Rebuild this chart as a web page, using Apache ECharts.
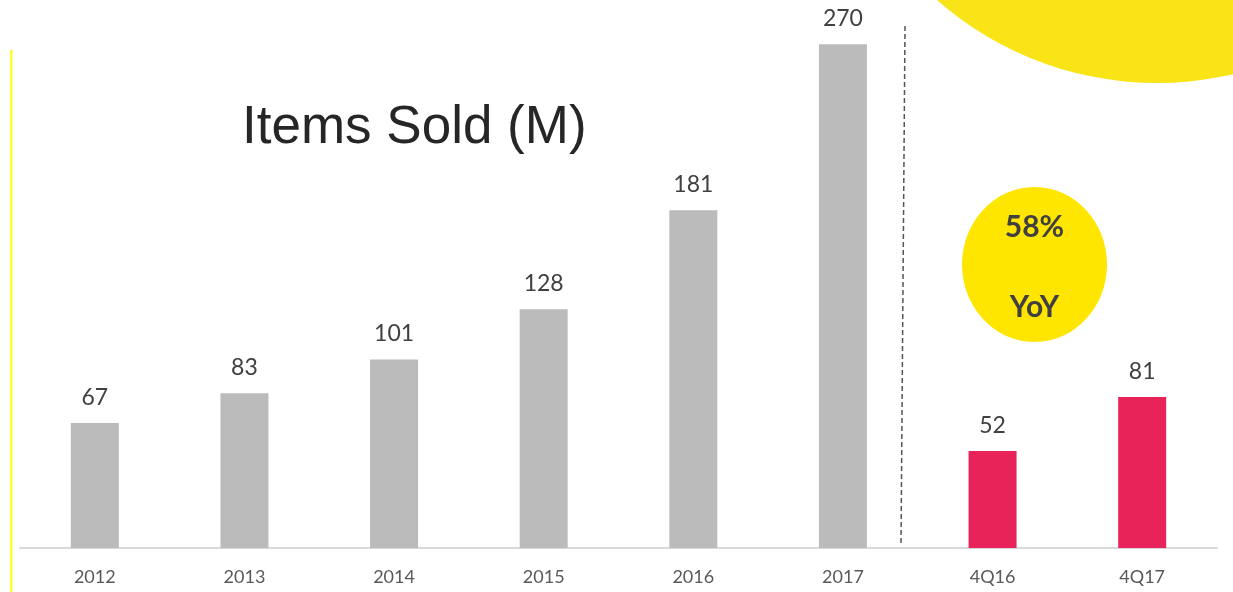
<!DOCTYPE html>
<html>
<head>
<meta charset="utf-8">
<script src="https://cdn.jsdelivr.net/npm/echarts@6/dist/echarts.min.js"></script>
<style>
  html, body { margin: 0; padding: 0; background: #fff; }
  #main { width: 1233px; height: 592px; }
</style>
</head>
<body>
<div id="main"></div>
<script>
const chart = echarts.init(document.querySelector('#main'))

// annual totals
const YEARS = ['2012', '2013', '2014', '2015', '2016', '2017']
const YEAR_VALUES = [67, 83, 101, 128, 181, 270]

// quarter comparison
const QUARTERS = ['4Q16', '4Q17']
const QUARTER_VALUES = [52, 81]

const TITLE = 'Items Sold (M)'
const YOY_TEXT = ['58%', 'YoY']

const GRAY = '#BBBBBB'
const PINK = '#E8235A'
const LABEL_FONT = 'Lato, "Open Sans", sans-serif'

const categories = YEARS.concat(QUARTERS)
const values = YEAR_VALUES.concat(QUARTER_VALUES)

let option = {
  animation: false,
  backgroundColor: '#fff',
  title: {
    text: TITLE,
    left: 237,
    top: 97,
    textStyle: {
      fontFamily: '"Liberation Sans", Arial, sans-serif',
      fontSize: 53,
      fontWeight: 'normal',
      color: '#262626'
    }
  },
  grid: {
    left: 20,
    right: 16,
    top: 25.6,
    bottom: 44
  },
  xAxis: {
    type: 'category',
    data: categories,
    axisLine: { lineStyle: { color: '#D9D9D9', width: 2 } },
    axisTick: { show: false },
    axisLabel: {
      color: '#595959',
      fontSize: 18,
      fontFamily: LABEL_FONT,
      margin: 20
    }
  },
  yAxis: {
    type: 'value',
    min: 0,
    max: 280,
    show: false,
    splitLine: { show: false }
  },
  series: [
    {
      type: 'bar',
      barWidth: 48,
      data: values.map((v, i) => ({
        value: v,
        itemStyle: { color: i < YEARS.length ? GRAY : PINK }
      })),
      label: {
        show: true,
        position: 'top',
        distance: 14,
        color: '#404040',
        fontSize: 23,
        fontFamily: LABEL_FONT
      }
    }
  ],
  graphic: [
    // big yellow disc in the top right corner
    {
      type: 'circle',
      shape: { cx: 1157, cy: -250, r: 333 },
      style: { fill: '#F9E517' },
      z: -1
    },
    // thin yellow rule on the left
    {
      type: 'rect',
      shape: { x: 10, y: 50, width: 2.5, height: 542 },
      style: { fill: '#FFFF30' }
    },
    // dashed separator between years and quarters
    {
      type: 'line',
      shape: { x1: 905, y1: 26, x2: 901, y2: 545 },
      style: { stroke: '#555', lineWidth: 1.5, lineDash: [5, 3] }
    },
    {
      type: 'ellipse',
      shape: { cx: 1034.5, cy: 264.5, rx: 72.5, ry: 77.5 },
      style: { fill: '#FFE600' }
    },
    {
      type: 'text',
      x: 1034.5,
      y: 227,
      style: {
        text: YOY_TEXT[0],
        fill: '#404040',
        font: 'bold 30px ' + LABEL_FONT,
        align: 'center',
        verticalAlign: 'middle'
      }
    },
    {
      type: 'text',
      x: 1034.5,
      y: 307,
      style: {
        text: YOY_TEXT[1],
        fill: '#404040',
        font: 'bold 30px ' + LABEL_FONT,
        align: 'center',
        verticalAlign: 'middle'
      }
    }
  ]
}

chart.setOption(option)
</script>
</body>
</html>
